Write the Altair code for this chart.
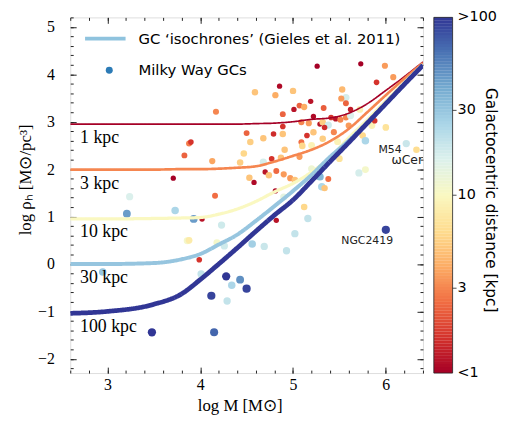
import altair as alt
import pandas as pd

# ---------------- data ----------------
logM = [5.26,5.73,5.99,6.08,5.90,4.855,4.59,4.81,5.00,5.53,
        5.57,5.52,5.57,5.19,5.07,5.12,5.01,4.89,5.33,5.62,
        5.72,4.17,5.22,5.41,5.46,5.51,5.57,5.62,5.60,5.85,
        5.88,6.00,4.89,5.09,5.17,5.29,5.32,5.38,5.34,4.50,
        4.79,4.89,4.68,4.54,5.09,5.15,5.22,5.32,5.20,5.10,
        5.44,5.48,5.75,5.78,3.88,3.90,3.83,4.13,4.47,4.43,
        4.91,4.77,4.87,5.07,5.50,4.68,4.70,4.74,4.82,4.90,
        4.97,5.02,5.29,5.38,5.31,5.34,5.20,3.71,4.53,4.58,
        4.81,4.16,3.24,6.22,6.33,5.71,5.78,4.90,5.12,5.16,
        4.82,5.02,4.69,4.93,4.56,3.21,3.73,3.93,4.02,4.23,
        3.86,3.88,4.18,4.26,6.00,3.99,2.95,4.01,4.28,4.43,
        4.34,4.50,4.12,4.29,3.48,4.15]
logrho = [4.17,4.22,4.18,3.94,3.83,3.75,3.62,3.56,3.65,3.68,
          3.51,3.49,3.39,3.43,3.34,3.31,3.26,3.16,3.29,3.26,
          3.26,3.21,3.11,3.09,3.06,3.04,3.09,3.13,2.92,2.92,
          3.02,2.88,2.90,2.99,2.97,2.95,2.99,2.93,2.88,2.76,
          2.74,2.74,2.65,2.57,2.57,2.71,2.78,2.64,2.50,2.49,
          2.78,2.58,2.71,2.60,2.54,2.57,2.29,2.17,2.33,2.14,
          2.41,2.22,2.24,2.26,2.22,2.15,1.94,1.87,1.96,1.89,
          1.81,1.77,1.84,1.79,1.63,1.60,2.01,1.81,1.82,1.72,
          1.54,1.44,1.42,2.54,2.41,1.92,1.99,1.41,1.20,0.96,
          0.92,0.64,0.37,0.28,0.42,1.06,1.13,0.95,0.95,0.82,
          0.49,0.50,0.45,0.38,0.72,0.09,-0.17,-0.21,-0.26,-0.33,
          -0.45,-0.52,-0.67,-0.78,-1.44,-1.44]
dist = [1.0,1.0,3.5,3.5,1.6,1.1,5.0,4.0,5.0,4.5,
        17,3.5,2.3,1.2,2.3,4.0,1.2,2.3,2.2,1.3,
        9,3.0,1.1,1.6,1.2,3.0,3.0,16,3.5,9,
        1.6,7,1.6,3.0,3.5,1.2,5.5,18,1.5,2.3,
        1.5,5.0,5.0,5.5,2.5,1.6,5.0,5.5,9,6,
        3.0,9,6,25,2.8,1.6,2.3,3.8,6,5.5,
        5.0,1.6,5.0,3.5,7,17,1.2,5.0,2.4,3.5,
        3.5,5.0,35,2.5,25,5.0,12,1.0,5.0,1.1,
        1.1,2.5,16,19,6.4,17,11,14,6,20,
        1.2,20,19,20,27,45,25,45,1.2,18,
        11,8,11,18,90,1.6,30,20,100,50,
        25,90,90,20,100,70]

iso_x = [2.6, 3.0, 3.5, 3.8, 4.0, 4.2, 4.4, 4.6, 4.8, 5.0, 5.2, 5.4, 5.6, 5.8, 6.0, 6.2, 6.4]
iso_1kpc   = [2.95, 2.95, 2.95, 2.95, 2.95, 2.95, 2.95, 2.96, 2.97, 3.00, 3.05, 3.08, 3.18, 3.38, 3.66, 3.95, 4.26]
iso_3kpc   = [1.99, 1.99, 1.99, 2.00, 2.00, 2.01, 2.03, 2.06, 2.16, 2.28, 2.41, 2.59, 2.85, 3.20, 3.56, 3.91, 4.24]
iso_10kpc  = [0.95, 0.95, 0.96, 0.97, 0.98, 1.05, 1.16, 1.32, 1.52, 1.70, 1.94, 2.25, 2.66, 3.04, 3.44, 3.83, 4.21]
iso_30kpc  = [0.00, 0.00, 0.02, 0.10, 0.21, 0.41, 0.62, 0.91, 1.22, 1.54, 1.88, 2.26, 2.60, 2.98, 3.38, 3.79, 4.19]
iso_100kpc = [-1.04, -1.00, -0.85, -0.63, -0.33, 0.00, 0.34, 0.69, 1.03, 1.35, 1.75, 2.16, 2.56, 2.97, 3.38, 3.79, 4.19]
iso_dist = [1, 3, 10, 30, 100]
iso_width = [1.7, 2.7, 3.3, 4.0, 4.8]

kpc_labels = ["1 kpc", "3 kpc", "10 kpc", "30 kpc", "100 kpc"]
kpc_label_x = [2.706, 2.706, 2.706, 2.706, 2.706]
kpc_label_y = [2.66, 1.69, 0.67, -0.30, -1.34]

annot_text = ["M54", "ωCen", "NGC2419"]
annot_x = [5.92, 6.06, 5.52]
annot_y = [2.41, 2.20, 0.49]
annot_size = [11, 12.5, 11]

# colour bar
cbar_tick_values = [1, 3, 10, 30, 100]
cbar_tick_labels = ["<1", "3", "10", "30", ">100"]
cbar_title = "Galactocentric distance [kpc]"
cbar_steps = 120

ISO_LABEL = "GC ‘isochrones’ (Gieles et al. 2011)"
GC_LABEL = "Milky Way GCs"

x_major = [3, 4, 5, 6]
y_major = [-2, -1, 0, 1, 2, 3, 4, 5]
x_minor = [round(2.6 + 0.2 * i, 1) for i in range(20)]
y_minor = [round(-2.2 + 0.2 * i, 1) for i in range(38)]

# ---------------- tables ----------------
df_pts = pd.DataFrame({"logM": logM, "logrho": logrho, "d": dist, "ds": dist,
                       "kind": GC_LABEL})
iso_all = [iso_1kpc, iso_3kpc, iso_10kpc, iso_30kpc, iso_100kpc]
rows = []
for ys, dd, ww in zip(iso_all, iso_dist, iso_width):
    for xv, yv in zip(iso_x, ys):
        rows.append({"x": xv, "y": yv, "d": dd, "w": ww, "lab": ISO_LABEL})
df_iso = pd.DataFrame(rows)
df_thin = df_iso[df_iso["d"] <= 3]
df_thick = df_iso[df_iso["d"] > 3]
df_kpc = pd.DataFrame({"x": kpc_label_x, "y": kpc_label_y, "t": kpc_labels})
df_ann = pd.DataFrame({"x": annot_x, "y": annot_y, "t": annot_text, "fs": annot_size})

cb_rows = []
for i in range(cbar_steps):
    lo = 10 ** (2.0 * i / cbar_steps)
    hi = 10 ** (2.0 * (i + 1) / cbar_steps)
    cb_rows.append({"lo": lo, "hi": hi * 1.002, "d": (lo * hi) ** 0.5})
df_cb = pd.DataFrame(cb_rows)
df_cb_frame = pd.DataFrame({"lo": [1.0], "hi": [100.0]})
df_cb_ticks = pd.DataFrame({"v": cbar_tick_values, "t": cbar_tick_labels})
df_cb_inner = df_cb_ticks[(df_cb_ticks["v"] > 1) & (df_cb_ticks["v"] < 100)]
df_cb_title = pd.DataFrame({"t": [cbar_title]})

# ---------------- scales / guides ----------------
XS = alt.Scale(domain=[2.6, 6.4], nice=False, zero=False)
YS = alt.Scale(domain=[-2.3, 5.2], nice=False, zero=False)
CS = alt.Scale(type="log", domain=[1, 100], scheme="redyellowblue", clamp=True)
SS = alt.Scale(type="log", domain=[0.999, 100.5], range=[28, 70], clamp=True)
CBY = alt.Scale(type="log", domain=[1, 100], nice=False)

DOTLEG = alt.Legend(
    orient="none", legendX=32, legendY=46, padding=0, title=None,
    labelFont="DejaVu Sans", labelFontSize=15, labelColor="black",
    labelOffset=22, symbolSize=50, symbolStrokeWidth=0,
    symbolFillColor="#2c7bb6", symbolType="circle",
)
LINELEG = alt.Legend(
    orient="none", legendX=13, legendY=-1, padding=0, title=None,
    labelFont="DejaVu Sans", labelFontSize=15, labelColor="black", labelLimit=400,
    labelOffset=11, symbolSize=1681, symbolType="stroke",
    symbolStrokeColor="#8fc3de", symbolStrokeWidth=4,
)


def tick_axis(orient, values, size):
    return alt.Axis(orient=orient, values=values, tickSize=size, offset=-size,
                    labels=False, domain=False, grid=False, title=None,
                    ticks=True, tickColor="#222", tickWidth=1)


main_x = alt.Axis(orient="bottom", values=x_major, format="d", ticks=False,
                  labelPadding=4, labelFont="Liberation Serif", labelFontSize=16,
                  labelColor="black", domain=False, grid=False,
                  title="log M [M⊙]", titleFont="Liberation Serif", titleFontSize=17,
                  titleFontWeight="normal", titleColor="black",
                  titleX=171.5, titleY=33, titleBaseline="middle", titleAlign="center")
main_y = alt.Axis(orient="left", values=y_major, format="d", ticks=False,
                  labelPadding=16, labelFont="Liberation Serif", labelFontSize=16,
                  labelColor="black", domain=False, grid=False,
                  title="log ρₕ [M⊙/pc³]", titleFont="Liberation Serif", titleFontSize=17,
                  titleFontWeight="normal", titleColor="black",
                  titleX=-45, titleY=164, titleBaseline="middle", titleAlign="center")

points = alt.Chart(df_pts).mark_point(filled=True, opacity=1, strokeWidth=0).encode(
    x=alt.X("logM:Q", scale=XS, axis=main_x),
    y=alt.Y("logrho:Q", scale=YS, axis=main_y),
    color=alt.Color("d:Q", scale=CS, legend=None),
    size=alt.Size("ds:Q", scale=SS, legend=None),
    shape=alt.Shape("kind:N", scale=alt.Scale(domain=[GC_LABEL], range=["circle"]),
                    legend=DOTLEG),
)

lines_thin = alt.Chart(df_thin).mark_line(interpolate="monotone", clip=True).encode(
    x=alt.X("x:Q", scale=XS, axis=tick_axis("bottom", x_major, 6)),
    y=alt.Y("y:Q", scale=YS, axis=tick_axis("left", y_major, 6)),
    color=alt.Color("d:Q", scale=CS, legend=None),
    strokeWidth=alt.StrokeWidth("w:Q", scale=None),
    strokeDash=alt.StrokeDash("lab:N", scale=alt.Scale(domain=[ISO_LABEL], range=[[1, 0]]),
                              legend=LINELEG),
    detail="d:N",
    order="x:Q",
)

lines_thick = alt.Chart(df_thick).mark_line(interpolate="monotone", clip=True).encode(
    x=alt.X("x:Q", scale=XS, axis=tick_axis("top", x_major, 6)),
    y=alt.Y("y:Q", scale=YS, axis=tick_axis("right", y_major, 6)),
    color=alt.Color("d:Q", scale=CS, legend=None),
    strokeWidth=alt.StrokeWidth("w:Q", scale=None),
    strokeDash=alt.StrokeDash("lab:N", scale=alt.Scale(domain=[ISO_LABEL], range=[[1, 0]]),
                              legend=LINELEG),
    detail="d:N",
    order="x:Q",
)

kpc_text = alt.Chart(df_kpc).mark_text(align="left", baseline="middle",
                                       font="Liberation Serif", fontSize=18,
                                       color="black").encode(
    x=alt.X("x:Q", scale=XS, axis=tick_axis("bottom", x_minor, 3)),
    y=alt.Y("y:Q", scale=YS, axis=tick_axis("left", y_minor, 3)),
    text="t:N",
)

ann_text = alt.Chart(df_ann).mark_text(align="left", baseline="middle",
                                       font="DejaVu Sans",
                                       color="#222", clip=True).encode(
    x=alt.X("x:Q", scale=XS, axis=tick_axis("top", x_minor, 3)),
    y=alt.Y("y:Q", scale=YS, axis=tick_axis("right", y_minor, 3)),
    text="t:N",
    size=alt.Size("fs:Q", scale=None),
)

# ---- colour bar (drawn from the same colour scale) ----
cb_rect = alt.Chart(df_cb).mark_rect(strokeWidth=0).encode(
    x=alt.value(368), x2=alt.value(387),
    y=alt.Y("lo:Q", scale=CBY, axis=None), y2="hi:Q",
    color=alt.Color("d:Q", scale=CS, legend=None),
)
cb_frame = alt.Chart(df_cb_frame).mark_rect(fill=None, stroke="#222", strokeWidth=0.8).encode(
    x=alt.value(368), x2=alt.value(387),
    y=alt.Y("lo:Q", scale=CBY, axis=None), y2="hi:Q",
)
cb_ticks = alt.Chart(df_cb_inner).mark_rule(color="#222", strokeWidth=0.8).encode(
    x=alt.value(387), x2=alt.value(391),
    y=alt.Y("v:Q", scale=CBY, axis=None),
)
cb_labels = alt.Chart(df_cb_ticks).mark_text(align="left", baseline="middle",
                                              font="DejaVu Sans", fontSize=14.5,
                                              color="black").encode(
    x=alt.value(392),
    y=alt.Y("v:Q", scale=CBY, axis=None),
    text="t:N",
)
cb_title = alt.Chart(df_cb_title).mark_text(align="center", baseline="middle", angle=90,
                                             font="DejaVu Sans", fontSize=15.5,
                                             color="black").encode(
    x=alt.value(426), y=alt.value(185), text="t:N",
)

chart = alt.layer(points, lines_thin, lines_thick, kpc_text, ann_text,
                  cb_rect, cb_frame, cb_ticks, cb_labels, cb_title).resolve_axis(
    x="independent", y="independent"
).resolve_scale(y="independent").properties(
    width=357, height=360,
    autosize=alt.AutoSizeParams(type="none"),
    padding={"left": 63, "top": 7, "right": 80, "bottom": 45},
).configure_view(stroke="#222", strokeWidth=1).configure(background="white")

chart.save("out.html", embed_options={"renderer": "svg", "actions": False})
